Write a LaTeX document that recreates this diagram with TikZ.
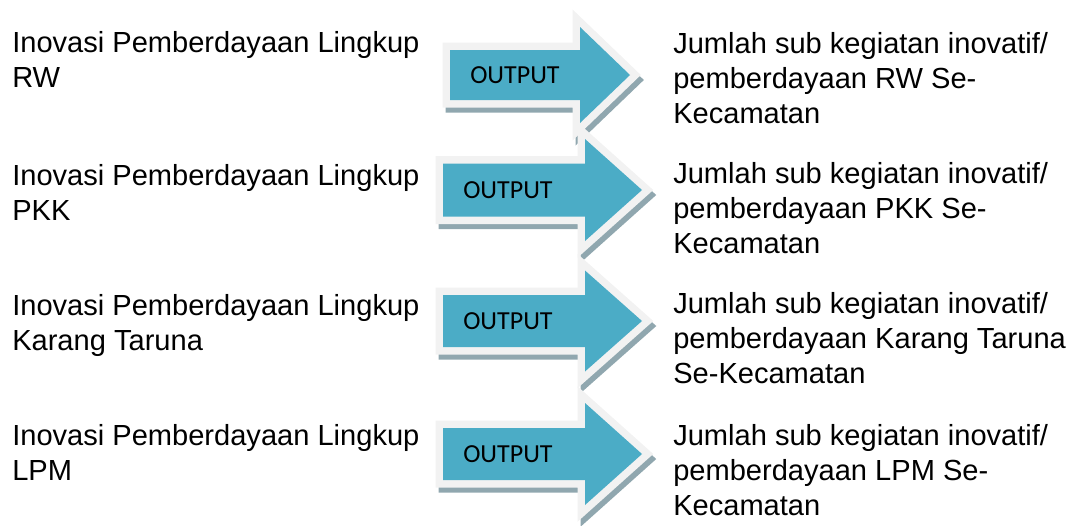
\documentclass[tikz,border=0pt]{standalone}
\usepackage{fontspec}
\setmainfont{Liberation Sans}
\newfontfamily\outfont{Carlito}
\definecolor{arrowteal}{HTML}{4BACC6}
\definecolor{arrowrim}{HTML}{F2F2F2}
\definecolor{arrowshade}{HTML}{90A7AF}

\begin{document}
\begin{tikzpicture}[x=.75pt, y=-.75pt,
  txt/.style={anchor=north west, inner sep=0pt, align=left, font=\fontsize{21.8}{26.3}\selectfont},
  outtxt/.style={anchor=base west, inner sep=0pt, font=\outfont\fontsize{19.5}{22}\selectfont},
  rim/.style={line width=11.25pt, miter limit=10}]
\useasboundingbox (0,0) rectangle (1077,525);
% arrows: centre y / left x / notch x / tip x / half body / half head
\foreach \cy/\lx/\nx/\tx/\hb/\hh [count=\i] in {75/450/580/630/25/48, 190/443/585/642/26.5/51, 321/443/585/642/26/50.5, 454/443/585/642/26/51}{
  \tikzset{outarrow/.style={insert path={(\lx,\cy-\hb) -- (\nx,\cy-\hb) -- (\nx,\cy-\hh) -- (\tx,\cy) -- (\nx,\cy+\hh) -- (\nx,\cy+\hb) -- (\lx,\cy+\hb) -- cycle}}}
  \filldraw[arrowshade, rim, shift={(3,5)}, outarrow];
  \draw[arrowrim, rim, outarrow];
  \fill[arrowteal, outarrow];
  \node[outtxt] (out\i) at (\lx+20,\cy+8.5) {OUTPUT};
}
% lingkup (left)
\node[txt] (ling1) at (12,31) {Inovasi Pemberdayaan Lingkup\\RW};
\node[txt] (ling2) at (12,164) {Inovasi Pemberdayaan Lingkup\\PKK};
\node[txt] (ling3) at (12,294) {Inovasi Pemberdayaan Lingkup\\Karang Taruna};
\node[txt] (ling4) at (12,424) {Inovasi Pemberdayaan Lingkup\\LPM};
% jumlah (right)
\node[txt] (jml1) at (673,32) {Jumlah sub kegiatan inovatif/\\pemberdayaan RW Se-\\Kecamatan};
\node[txt] (jml2) at (673,162) {Jumlah sub kegiatan inovatif/\\pemberdayaan PKK Se-\\Kecamatan};
\node[txt] (jml3) at (673,292) {Jumlah sub kegiatan inovatif/\\pemberdayaan Karang Taruna\\Se-Kecamatan};
\node[txt] (jml4) at (673,424) {Jumlah sub kegiatan inovatif/\\pemberdayaan LPM Se-\\Kecamatan};
\end{tikzpicture}
\end{document}
